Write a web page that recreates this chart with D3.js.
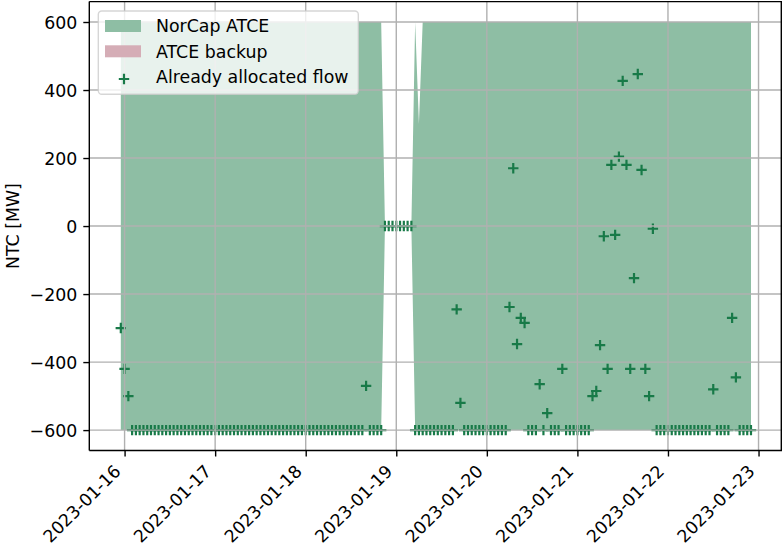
<!DOCTYPE html>
<html>
<head>
<meta charset="utf-8">
<script src="https://cdn.jsdelivr.net/npm/d3@7"></script>
<style>
  html, body { margin: 0; padding: 0; background: #fff; }
  svg { display: block; font-family: "DejaVu Sans", sans-serif; }
</style>
</head>
<body>
<svg id="chart" width="782" height="546"></svg>
<script>
// ---------- DATA ----------
// Hourly values, first hour 2023-01-15 23:00 UTC, 168 hours
const startHour = "2023-01-15T23:00:00Z";

const atceUpper = [
  600,600,600,600,600,600,600,600,600,600, 600,600,600,600,600,600,600,600,600,600,
  600,600,600,600,600,600,600,600,600,600, 600,600,600,600,600,600,600,600,600,600,
  600,600,600,600,600,600,600,600,600,600, 600,600,600,600,600,600,600,600,600,600,
  600,600,600,600,600,600,600,600,600,600, 0,0,0,0,0,0,0,0,600,300,
  600,600,600,600,600,600,600,600,600,600, 600,600,600,600,600,600,600,600,600,600,
  600,600,600,600,600,600,600,600,600,600, 600,600,600,600,600,600,600,600,600,600,
  600,600,600,600,600,600,600,600,600,600, 600,600,600,600,600,600,600,600,600,600,
  600,600,600,600,600,600,600,600,600,600, 600,600,600,600,600,600,600,600,600,600,
  600,600,600,600,600,600,600,600
];
const atceLower = [
  -600,-600,-600,-600,-600,-600,-600,-600,-600,-600, -600,-600,-600,-600,-600,-600,-600,-600,-600,-600,
  -600,-600,-600,-600,-600,-600,-600,-600,-600,-600, -600,-600,-600,-600,-600,-600,-600,-600,-600,-600,
  -600,-600,-600,-600,-600,-600,-600,-600,-600,-600, -600,-600,-600,-600,-600,-600,-600,-600,-600,-600,
  -600,-600,-600,-600,-600,-600,-600,-600,-600,-600, 0,0,0,0,0,0,0,0,-600,-600,
  -600,-600,-600,-600,-600,-600,-600,-600,-600,-600, -600,-600,-600,-600,-600,-600,-600,-600,-600,-600,
  -600,-600,-600,-600,-600,-600,-600,-600,-600,-600, -600,-600,-600,-600,-600,-600,-600,-600,-600,-600,
  -600,-600,-600,-600,-600,-600,-600,-600,-600,-600, -600,-600,-600,-600,-600,-600,-600,-600,-600,-600,
  -600,-600,-600,-600,-600,-600,-600,-600,-600,-600, -600,-600,-600,-600,-600,-600,-600,-600,-600,-600,
  -600,-600,-600,-600,-600,-600,-600,-600
];
const allocatedFlow = [
  -300,-420,-500,-600,-600,-600,-600,-600,-600,-600, -600,-600,-600,-600,-600,-600,-600,-600,-600,-600,
  -600,-600,-600,-600,-600,-600,-600,-600,-600,-600, -600,-600,-600,-600,-600,-600,-600,-600,-600,-600,
  -600,-600,-600,-600,-600,-600,-600,-600,-600,-600, -600,-600,-600,-600,-600,-600,-600,-600,-600,-600,
  -600,-600,-600,-600,-600,-470,-600,-600,-600,-600, 0,0,0,0,0,0,0,0,-600,-600,
  -600,-600,-600,-600,-600,-600,-600,-600,-600,-245, -520,-600,-600,-600,-600,-600,-600,-600,-600,-600,
  -600,-600,-600,-238,170,-347,-270,-285,-600,-600, -600,-465,-600,-550,-600,-600,-600,-420,-600,-600,
  -600,-600,-600,-600,-600,-500,-485,-350,-30,-420, 180,-26,204,427,180,-420,-153,447,165,-420,
  -500,-8,-600,-600,-600,-600,-600,-600,-600,-600, -600,-600,-600,-600,-600,-600,-600,-480,-600,-600,
  -600,-600,-270,-445,-600,-600,-600,-600
];
const yTicks = [-600, -400, -200, 0, 200, 400, 600];
const legendLabels = ["NorCap ATCE", "ATCE backup", "Already allocated flow"];

// ---------- STYLE ----------
const fillGreen = "#8ebea4";
const backupPink = "#d5adb6";
const markerGreen = "#187a48";
const gridColor = "#b0b0b0";
const fs = 17.36;

const svg = d3.select("#chart");
const L = 89.3, R = 782.5, T = 1.6, B = 450.5;

const t0 = new Date(startHour);
const times = allocatedFlow.map((_, i) => d3.utcHour.offset(t0, i));
const n = times.length;
const marginH = 0.05 * (n - 1);
const x = d3.scaleUtc()
  .domain([new Date(+t0 - marginH * 3600e3), new Date(+times[n - 1] + marginH * 3600e3)])
  .range([L, R]);
const y = d3.scaleLinear().domain([-660, 660]).range([B, T]);

svg.append("defs").append("clipPath").attr("id", "clip")
  .append("rect").attr("x", L).attr("y", T).attr("width", R - L).attr("height", B - T);

const plot = svg.append("g").attr("clip-path", "url(#clip)");

// fill (NorCap ATCE)
const area = d3.area()
  .x((d, i) => x(times[i]))
  .y0((d, i) => y(atceLower[i]))
  .y1((d, i) => y(atceUpper[i]))
  .curve(d3.curveLinear);
plot.append("path").datum(atceUpper).attr("d", area).attr("fill", fillGreen);

// markers
const ms = 5.2;
const plusPath = `M${-ms},0H${ms}M0,${-ms}V${ms}`;
plot.append("g").selectAll("path")
  .data(allocatedFlow.map((v, i) => ({ t: times[i], v })).filter(d => d.v !== null))
  .join("path")
  .attr("transform", d => `translate(${x(d.t)},${y(d.v)})`)
  .attr("d", plusPath)
  .attr("stroke", markerGreen).attr("stroke-width", 2.2).attr("fill", "none");

// grid on top
const xTicks = x.ticks(d3.utcDay.every(1));
const grid = plot.append("g").attr("stroke", gridColor).attr("stroke-width", 1.4);
grid.selectAll(".gx").data(xTicks).join("line")
  .attr("x1", d => x(d)).attr("x2", d => x(d)).attr("y1", T).attr("y2", B);
grid.selectAll(".gy").data(yTicks).join("line")
  .attr("x1", L).attr("x2", R).attr("y1", d => y(d)).attr("y2", d => y(d));

// axes
const fmt = d3.utcFormat("%Y-%m-%d");
const xAxis = svg.append("g").attr("transform", `translate(0,${B})`)
  .call(d3.axisBottom(x).tickValues(xTicks).tickSize(6).tickFormat(""));
const yAxis = svg.append("g").attr("transform", `translate(${L},0)`)
  .call(d3.axisLeft(y).tickValues(yTicks).tickSize(6).tickPadding(6)
    .tickFormat(d => d < 0 ? "\u2212" + Math.abs(d) : String(d)));
[xAxis, yAxis].forEach(a => {
  a.select(".domain").remove();
  a.selectAll(".tick line").attr("stroke", "#000").attr("stroke-width", 1.4);
});
yAxis.selectAll(".tick text").attr("font-size", fs).attr("fill", "#000")
  .attr("font-family", "DejaVu Sans").attr("dy", "0.36em");

// rotated x labels
const A = 0.76 * fs, D = 0.223 * fs;
svg.append("g").selectAll("text").data(xTicks).join("text")
  .attr("transform", d => `translate(${x(d) - 0.707 * D},${B + 12.5 + 0.707 * A}) rotate(-45)`)
  .attr("text-anchor", "end")
  .attr("font-size", fs).attr("fill", "#000")
  .text(d => fmt(d));

// spines
const sp = svg.append("g").attr("stroke", "#000").attr("stroke-width", 1.4).attr("fill", "none");
sp.append("line").attr("x1", L).attr("x2", L).attr("y1", T).attr("y2", B);
sp.append("line").attr("x1", L).attr("x2", 782).attr("y1", B).attr("y2", B);
sp.append("line").attr("x1", L).attr("x2", 782).attr("y1", T).attr("y2", T);
sp.append("line").attr("x1", 781.3).attr("x2", 781.3).attr("y1", T).attr("y2", B);

// y label
svg.append("text")
  .attr("transform", `translate(18.5,${(T + B) / 2}) rotate(-90)`)
  .attr("text-anchor", "middle").attr("font-size", fs).attr("fill", "#000")
  .text("NTC [MW]");

// legend
const lg = svg.append("g");
lg.append("rect").attr("x", 98.3).attr("y", 11).attr("width", 260).attr("height", 83.3)
  .attr("rx", 3.5).attr("fill", "#fff").attr("fill-opacity", 0.8)
  .attr("stroke", "#cccccc").attr("stroke-opacity", 0.8).attr("stroke-width", 1.4);
const rowC = [26, 51.3, 77];
lg.append("rect").attr("x", 105).attr("y", rowC[0] - 6).attr("width", 36).attr("height", 12).attr("fill", fillGreen);
lg.append("rect").attr("x", 105).attr("y", rowC[1] - 6).attr("width", 36).attr("height", 12).attr("fill", backupPink);
lg.append("path").attr("transform", `translate(124,${rowC[2] + 2})`).attr("d", plusPath)
  .attr("stroke", markerGreen).attr("stroke-width", 2.2);
lg.selectAll("text.l").data(legendLabels).join("text")
  .attr("x", 156).attr("y", (d, i) => rowC[i] + 6.2)
  .attr("font-size", fs).attr("fill", "#000").text(d => d);
</script>
</body>
</html>
